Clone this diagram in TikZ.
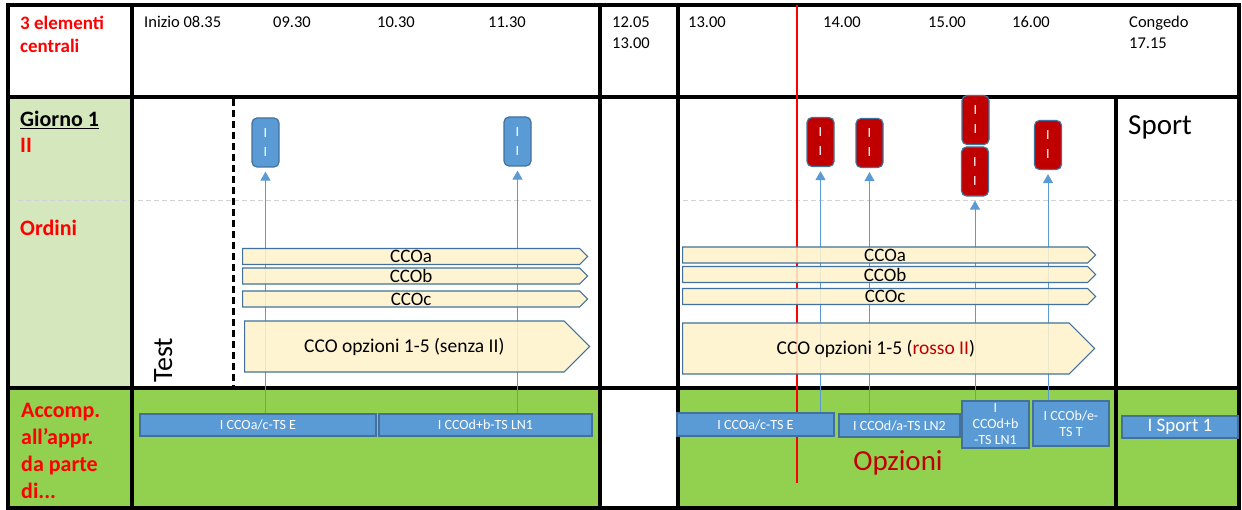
\documentclass[tikz,border=0pt]{standalone}
\usepackage{fontspec}
\setmainfont{Carlito}
\usetikzlibrary{arrows.meta,positioning,shapes.symbols,calc}
\definecolor{lgreen}{HTML}{D5E8BD}
\definecolor{dgreen}{HTML}{92D050}
\definecolor{accblue}{HTML}{5B9BD5}
\definecolor{edgeblue}{HTML}{41719C}
\definecolor{cream}{HTML}{FFF2CC}
\definecolor{darkred}{HTML}{C00000}
\definecolor{linered}{HTML}{FF0000}

\begin{document}
\begin{tikzpicture}[x=1pt, y=-1pt,
    grid/.style={line width=4pt, line cap=rect},
    lab/.style={font=\bfseries\fontsize{22}{27}\selectfont, text=red, anchor=base west, inner sep=0, align=left},
    tlab/.style={font=\fontsize{16.5}{21}\selectfont, anchor=base west, inner sep=0, align=left},
    bmark/.style={draw=edgeblue, line width=1.2pt, fill=accblue, rounded corners=5pt, minimum width=27pt, minimum height=49pt, inner sep=0, text=white, align=center, font=\fontsize{14}{19}\selectfont},
    rmark/.style={bmark, fill=darkred},
    strip/.style={signal, signal to=east, anchor=west, draw=edgeblue, line width=1.2pt, fill=cream, fill opacity=0.88, text opacity=1, inner sep=0, minimum height=16pt, font=\fontsize{19}{20}\selectfont},
    bigstrip/.style={strip, minimum height=51pt, font=\fontsize{19.5}{23}\selectfont},
    task/.style={draw=edgeblue, line width=1.2pt, fill=accblue, inner sep=0, text=white, align=center, font=\fontsize{14}{16}\selectfont},
    edge/.style={-{Triangle[width=10pt,length=9pt]}, accblue, line width=0.9pt, shorten >=4pt}
  ]
    \useasboundingbox (0,0) rectangle (1242,510);

    % cell backgrounds
    \fill[lgreen] (8,97) rectangle (132,388);
    \fill[dgreen] (8,388) rectangle (600,508);
    \fill[dgreen] (678,388) rectangle (1239,508);
    \draw[gray!35, line width=1pt, dash pattern=on 5pt off 3pt] (18,201) -- (594,201) (683,201) -- (1239,201);

    % grid
    \draw[grid] (8,5) rectangle (1239,508);
    \draw[grid] (8,97) -- (1239,97) (8,388) -- (1239,388);
    \draw[grid] (132,5) -- (132,508) (600,5) -- (600,508) (678,5) -- (678,508) (1116,97) -- (1116,508);
    \draw[line width=3pt, dash pattern=on 7pt off 4pt] (233,99) -- (233,386);
    \draw[linered, line width=1.2pt] (797,5) -- (797,483);

    % row labels (base = last line)
    \node[lab, font=\bfseries\fontsize{19}{23.5}\selectfont] (title) at (20,53) {3 elementi\\centrali};
    \node[lab, text=black] (day) at (20,127) {\underline{Giorno 1}};
    \node[lab] (ii) at (20,153) {II};
    \node[lab] (ord) at (20,236) {Ordini};
    \node[lab] (acc) at (21,498) {Accomp.\\all’appr.\\da parte\\di...};

    % times
    \node[tlab] (t0) at (144,28) {Inizio 08.35};
    \node[tlab] (t1) at (273,28) {09.30};
    \node[tlab] (t2) at (377,28) {10.30};
    \node[tlab] (t3) at (488,28) {11.30};
    \node[tlab] (t4) at (612,49) {12.05\\13.00};
    \node[tlab] (t5) at (688,28) {13.00};
    \node[tlab] (t6) at (823,28) {14.00};
    \node[tlab] (t7) at (928,28) {15.00};
    \node[tlab] (t8) at (1012,28) {16.00};
    \node[tlab] (t9) at (1129,49) {Congedo\\17.15};

    \node[font=\fontsize{29}{34}\selectfont, anchor=base west, inner sep=0] (sport) at (1128,135) {Sport};
    \node[font=\fontsize{28}{34}\selectfont, anchor=base west, inner sep=0, rotate=90] (test) at (172,383) {Test};
    \node[font=\fontsize{29}{34}\selectfont, text=darkred, anchor=base, inner sep=0] (opz) at (898,470) {Opzioni};

    % markers
    \node[bmark] (b1) at (265.5,142.5) {I\\I};
    \node[bmark] (b2) at (517.5,141.5) {I\\I};
    \node[rmark] (r1) at (820.5,142) {I\\I};
    \node[rmark] (r2) at (869.5,143) {I\\I};
    \node[rmark] (r3) at (975.5,120) {I\\I};
    \node[rmark] (r4) at (975,171.5) {I\\I};
    \node[rmark] (r5) at (1048,145) {I\\I};

    % accompaniment boxes
    \node[task, minimum width=236pt, minimum height=22pt] (l1) at (258,425) {I CCOa/c-TS E};
    \node[task, minimum width=213pt, minimum height=22pt] (l2) at (485.5,425) {I CCOd+b-TS LN1};
    \node[task, minimum width=157pt, minimum height=23pt] (p1) at (755.5,424.5) {I CCOa/c-TS E};
    \node[task, minimum width=121pt, minimum height=23pt] (p2) at (899.5,425.5) {I CCOd/a-TS LN2};
    \node[task, minimum width=67pt, minimum height=47pt] (p3) at (995.5,424.5) {I\\CCOd+b\\-TS LN1};
    \node[task, minimum width=76pt, minimum height=45pt] (p4) at (1071,423.5) {I CCOb/e-\\TS T};
    \node[task, minimum width=116pt, minimum height=22pt, font=\fontsize{19}{23}\selectfont] (sp1) at (1180,427) {I Sport 1};

    \draw[edge] (l1.north -| b1) -- (b1);
    \draw[edge] (l2.north -| b2) -- (b2);
    \draw[edge] (p1.north -| r1) -- (r1);
    \draw[edge] (p2.north -| r2) -- (r2);
    \draw[edge] (p3.north -| r4) -- (r4);
    \draw[edge] (p4.north -| r5) -- (r5);

    % orders
    \node[strip, minimum width=345pt] (la) at (242,256.5) {CCOa};
    \node[strip, minimum width=345pt] (lb) at (242,276) {CCOb};
    \node[strip, minimum width=345pt] (lc) at (242,299) {CCOc};
    \node[bigstrip, minimum width=345pt] (lo) at (244,346.5) {CCO opzioni 1-5 (senza II)};
    \node[strip, minimum width=413pt] (ra) at (682,255) {CCOa};
    \node[strip, minimum width=413pt] (rb) at (682,274.5) {CCOb};
    \node[strip, minimum width=413pt] (rc) at (682,296.5) {CCOc};
    \node[bigstrip, minimum width=412pt] (ro) at (682,348.5) {CCO opzioni 1-5 (\textcolor{darkred}{rosso II})};
\end{tikzpicture}
\end{document}
